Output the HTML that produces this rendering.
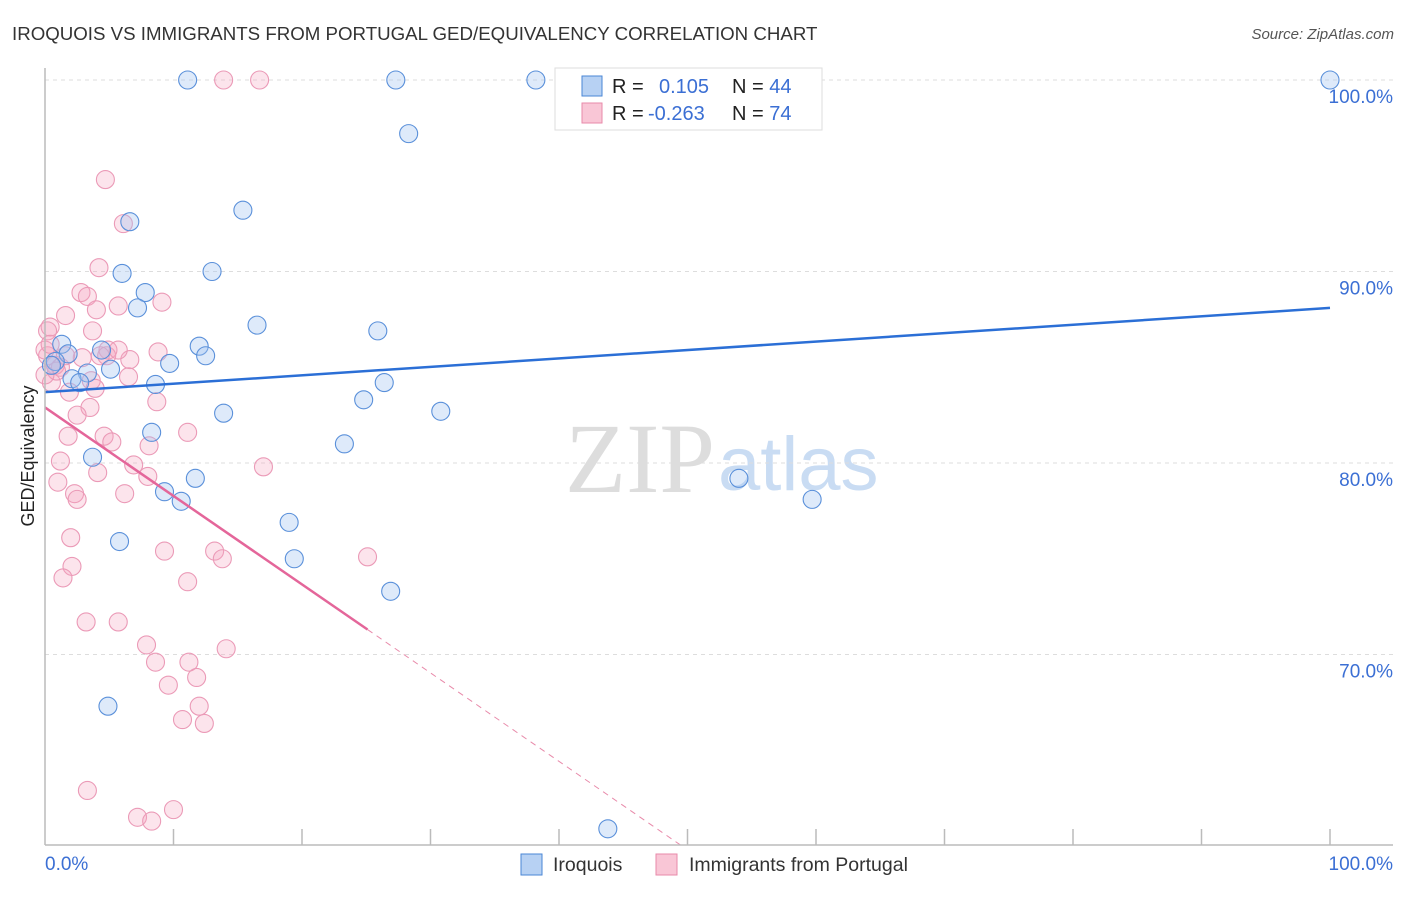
<!DOCTYPE html>
<html><head><meta charset="utf-8"><style>
body{margin:0;background:#fff;width:1406px;height:892px;overflow:hidden;font-family:"Liberation Sans",sans-serif}
</style></head><body>
<svg id="chart" width="1406" height="892" xmlns="http://www.w3.org/2000/svg">
<text x="12" y="40" font-size="18.7" fill="#333">IROQUOIS VS IMMIGRANTS FROM PORTUGAL GED/EQUIVALENCY CORRELATION CHART</text>
<text x="1394" y="39" font-size="15" fill="#555" font-style="italic" text-anchor="end">Source: ZipAtlas.com</text>
<text x="715" y="492" font-size="100" fill="#ddd" text-anchor="end" font-family="Liberation Serif,serif">ZIP</text>
<text x="718" y="490" font-size="76" fill="#c9dcf3">atlas</text>
<text transform="translate(34,456) rotate(-90)" font-size="18" fill="#222" text-anchor="middle">GED/Equivalency</text>
<g id="grid"></g><g id="pts"></g><g id="trend"></g>
<line x1="45" y1="68" x2="45" y2="845" stroke="#bbb" stroke-width="1.5"/>
<line x1="45" y1="845" x2="1393" y2="845" stroke="#bbb" stroke-width="1.5"/>
<text x="45" y="870" font-size="19" fill="#3b6fd4">0.0%</text>
<text x="1393" y="870" font-size="19" fill="#3b6fd4" text-anchor="end">100.0%</text>
<g>
<rect x="555" y="68" width="267" height="62" fill="#fff" stroke="#ddd"/>
<rect x="582" y="76" width="20" height="20" fill="#b7d1f3" stroke="#4a86d6"/>
<rect x="582" y="103" width="20" height="20" fill="#f9c6d6" stroke="#e88aaa"/>
<text x="612" y="93" font-size="20" fill="#222">R = <tspan fill="#3b6fd4" x="659">0.105</tspan><tspan x="732" fill="#222">N = </tspan><tspan fill="#3b6fd4">44</tspan></text>
<text x="612" y="120" font-size="20" fill="#222">R = <tspan fill="#3b6fd4" x="648">-0.263</tspan><tspan x="732" fill="#222">N = </tspan><tspan fill="#3b6fd4">74</tspan></text>
</g>
<g>
<rect x="521" y="854" width="21" height="21" fill="#b7d1f3" stroke="#4a86d6"/>
<text x="553" y="871" font-size="19.5" fill="#333">Iroquois</text>
<rect x="656" y="854" width="21" height="21" fill="#f9c6d6" stroke="#e88aaa"/>
<text x="689" y="871" font-size="19.5" fill="#333">Immigrants from Portugal</text>
</g>
</svg>
<script>
const yTicks=[100,90,80,70];
const xTickCount=10;
const blueX=[11.1,27.3,38.2,100,28.3,6.6,15.4,6.0,13.0,7.8,7.2,16.5,25.9,1.3,12.0,12.5,1.8,4.4,0.8,0.5,9.7,5.1,3.3,2.1,2.7,8.6,26.4,24.8,13.9,30.8,8.3,23.3,3.7,11.7,9.3,10.6,54.0,59.7,19.0,5.8,19.4,26.9,4.9,43.8];
const blueY=[100,100,100,100,97.2,92.6,93.2,89.9,90.0,88.9,88.1,87.2,86.9,86.2,86.1,85.6,85.7,85.9,85.3,85.1,85.2,84.9,84.7,84.4,84.2,84.1,84.2,83.3,82.6,82.7,81.6,81.0,80.3,79.2,78.5,78.0,79.2,78.1,76.9,75.9,75.0,73.3,67.3,60.9];
const pinkX=[13.9,16.7,4.7,6.1,4.2,2.8,3.3,9.1,5.7,4.0,1.6,0.4,0.2,3.7,4.9,6.6,8.8,2.9,0.2,0.8,1.2,6.5,3.6,0.5,3.9,1.9,8.7,3.5,2.5,11.1,1.8,4.6,5.2,8.1,6.9,17.0,1.2,8.0,4.1,1.0,6.2,2.3,2.5,2.0,9.3,13.2,13.8,25.1,2.1,1.4,11.1,3.2,5.7,7.9,8.6,11.2,14.1,11.8,9.6,12.0,10.7,12.4,3.3,10.0,7.2,8.3,0,0.4,0.9,0,1.6,4.3,4.8,5.7];
const pinkY=[100,100,94.8,92.5,90.2,88.9,88.7,88.4,88.2,88.0,87.7,87.1,86.9,86.9,85.9,85.4,85.8,85.5,85.6,85.1,85.0,84.5,84.3,84.2,83.9,83.7,83.2,82.9,82.5,81.6,81.4,81.4,81.1,80.9,79.9,79.8,80.1,79.3,79.5,79.0,78.4,78.4,78.1,76.1,75.4,75.4,75.0,75.1,74.6,74.0,73.8,71.7,71.7,70.5,69.6,69.6,70.3,68.8,68.4,67.3,66.6,66.4,62.9,61.9,61.5,61.3,85.9,86.2,84.8,84.6,85.6,85.6,85.6,85.9];
const blueTrend=[83.7,88.1];   // y at x=0, x=100
const pinkTrend=[82.9,-0.462]; // intercept, slope
const pinkSolidEnd=25.1;
const X=v=>45+v*12.85, Y=v=>80+(100-v)*19.15;
const NS="http://www.w3.org/2000/svg";
function mk(tag,attrs,parent){const e=document.createElementNS(NS,tag);for(const k in attrs)e.setAttribute(k,attrs[k]);parent.appendChild(e);return e;}
const grid=document.getElementById('grid');
yTicks.forEach(t=>{
 const l=mk('line',{x1:45,x2:1393,y1:Y(t),y2:Y(t),stroke:'#ddd','stroke-dasharray':'4,4'},grid);
 
 
 const tx=mk('text',{x:1393,y:Y(t)+23,'font-size':19,fill:'#3b6fd4','text-anchor':'end'},grid);
 tx.textContent=t.toFixed(1)+'%';
 
 
});
for(let i=1;i<=xTickCount;i++){
 const l=mk('line',{x1:X(i*10),x2:X(i*10),y1:829,y2:845,stroke:'#bbb','stroke-width':1.5},grid);
 
 
}
const pts=document.getElementById('pts');
pinkX.forEach((x,i)=>{
 const c=mk('circle',{cx:X(x),cy:Y(pinkY[i]),r:9,fill:'rgba(245,165,192,0.3)',stroke:'#eb9ab7','stroke-width':1.1},pts);
 
 
});
blueX.forEach((x,i)=>{
 const c=mk('circle',{cx:X(x),cy:Y(blueY[i]),r:9,fill:'rgba(160,196,240,0.35)',stroke:'#5a90da','stroke-width':1.1},pts);
 
 
});
const tr=document.getElementById('trend');
const b=mk('line',{x1:X(0),y1:Y(blueTrend[0]),x2:X(100),y2:Y(blueTrend[1]),stroke:'#2b6fd6','stroke-width':2.5},tr);


const py=x=>pinkTrend[0]+pinkTrend[1]*x;
const p=mk('line',{x1:X(0),y1:Y(py(0)),x2:X(pinkSolidEnd),y2:Y(py(pinkSolidEnd)),stroke:'#e4669a','stroke-width':2.5},tr);


const xe=(60-pinkTrend[0])/pinkTrend[1];
const pd=mk('line',{x1:X(pinkSolidEnd),y1:Y(py(pinkSolidEnd)),x2:X(xe),y2:Y(60),stroke:'#e88aaa','stroke-width':1,'stroke-dasharray':'6,5'},tr);


</script>
</body></html>
